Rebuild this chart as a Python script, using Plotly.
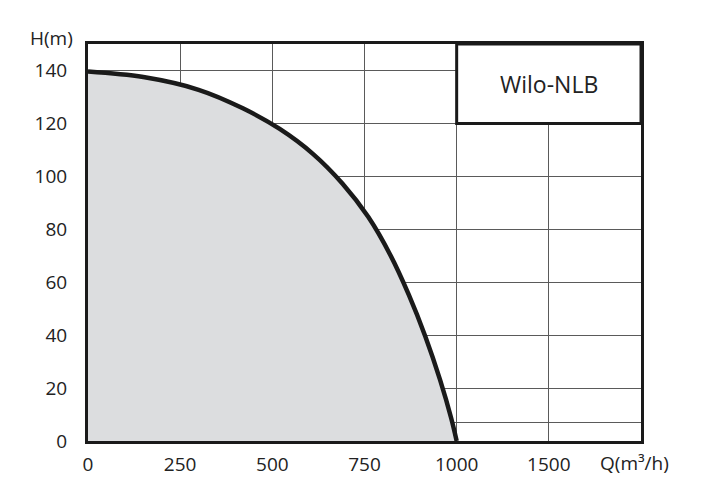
import plotly.graph_objects as go

# Data (pump curve: flow Q in m³/h, head H in m)
flow_q = [0, 150, 300, 420, 520, 610, 690, 760, 820, 870, 915, 955, 985, 1000]
head_h = [139.6, 137.5, 132.7, 125.7, 117.9, 108.5, 97.3, 84.7, 70.3, 55.3, 39.5, 23.1, 8.7, 0.0]

x_tick_labels = ["0", "250", "500", "750", "1000", "1500"]
x_step = 250
y_tick_vals = [0, 7, 20, 40, 60, 80, 100, 120, 140]
y_tick_text = ["0", "", "20", "40", "60", "80", "100", "120", "140"]
product_name = "Wilo-NLB"
x_title = "Q(m³/h)"
y_title = "H(m)"

x_tick_vals = [i * x_step for i in range(len(x_tick_labels))]
x_max = len(x_tick_labels) * x_step
y_max = 150
box_bottom = 120

font_family = "Open Sans, Noto Sans, sans-serif"
text_color = "#222"

fig = go.Figure()
fig.add_trace(go.Scatter(
    x=flow_q, y=head_h, mode="lines",
    line=dict(color="#1a1a1a", width=4.5, shape="spline", smoothing=1.0),
    fill="tozeroy", fillcolor="#dcdddf",
    hoverinfo="skip", showlegend=False,
))

fig.add_shape(type="rect", xref="x", yref="y",
              x0=x_tick_vals[4], x1=x_max, y0=box_bottom, y1=y_max,
              fillcolor="white", line=dict(color="#1a1a1a", width=3), layer="above")
fig.add_annotation(x=(x_tick_vals[4] + x_max) / 2, y=(box_bottom + y_max) / 2,
                   xref="x", yref="y", text=product_name, showarrow=False,
                   font=dict(family=font_family, size=23, color=text_color))

fig.add_annotation(xref="paper", yref="paper", x=0, y=1, xshift=-13, yshift=6,
                   text=y_title, showarrow=False, xanchor="right", yanchor="middle",
                   font=dict(family=font_family, size=19, color=text_color))
fig.add_annotation(xref="paper", yref="paper", x=1, y=0, xshift=-43, yshift=-22,
                   text=x_title, showarrow=False, xanchor="left", yanchor="middle",
                   font=dict(family=font_family, size=19, color=text_color))

fig.update_layout(
    width=717, height=497,
    margin=dict(l=88, r=76, t=44, b=56),
    paper_bgcolor="white", plot_bgcolor="white",
    font=dict(family=font_family, size=19, color=text_color),
)

fig.update_xaxes(range=[0, x_max], tickvals=x_tick_vals, ticktext=x_tick_labels,
                 showgrid=True, gridcolor="#5a5a5a", gridwidth=1.3,
                 showline=True, mirror=True, linecolor="#1a1a1a", linewidth=3,
                 ticks="", ticklabelstandoff=4, zeroline=False, fixedrange=True)
fig.update_yaxes(range=[0, y_max], tickvals=y_tick_vals, ticktext=y_tick_text,
                 showgrid=True, gridcolor="#5a5a5a", gridwidth=1.3,
                 showline=True, mirror=True, linecolor="#1a1a1a", linewidth=3,
                 ticks="", ticklabelstandoff=14, zeroline=False, fixedrange=True)

fig.write_html("out.html")
